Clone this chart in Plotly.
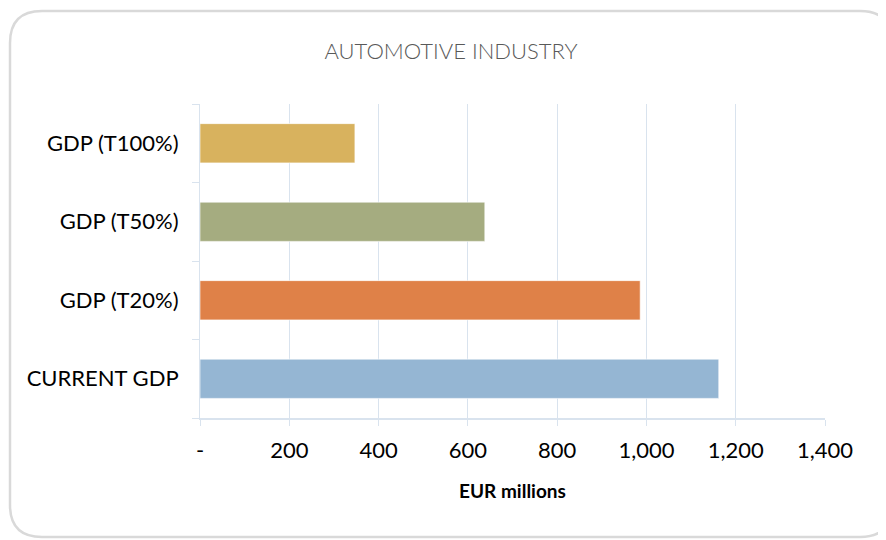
import plotly.graph_objects as go

categories = ["CURRENT GDP", "GDP (T20%)", "GDP (T50%)", "GDP (T100%)"]
values = [1162, 986, 638, 347]
colors = ["#95B6D3", "#DF8148", "#A5AC80", "#D8B25E"]
tick_vals = [0, 200, 400, 600, 800, 1000, 1200, 1400]
tick_text = ["-", "200", "400", "600", "800", "1,000", "1,200", "1,400"]

OFF = 8  # page body margin
W, H = 886 - OFF, 540 - OFF
ML, MR, MT, MB = 200 - OFF, 61, 104 - OFF, 122
PW, PH = W - ML - MR, H - MT - MB

def px(x):
    return (x - OFF - ML) / PW

def py(y):
    return (H - MB - (y - OFF)) / PH

def rounded_rect(x0, y0, x1, y1, r):
    pts = [
        ("M", [(x0 + r, y0)]),
        ("L", [(x1 - r, y0)]),
        ("Q", [(x1, y0), (x1, y0 + r)]),
        ("L", [(x1, y1 - r)]),
        ("Q", [(x1, y1), (x1 - r, y1)]),
        ("L", [(x0 + r, y1)]),
        ("Q", [(x0, y1), (x0, y1 - r)]),
        ("L", [(x0, y0 + r)]),
        ("Q", [(x0, y0), (x0 + r, y0)]),
    ]
    s = ""
    for cmd, ps in pts:
        s += cmd + " " + " ".join(f"{px(a):.5f},{py(b):.5f}" for a, b in ps) + " "
    return s + "Z"

fig = go.Figure(go.Bar(
    y=categories, x=values, orientation="h",
    marker=dict(color=colors, line=dict(color="rgba(255,255,255,0.6)", width=1)),
    width=0.5,
))

font = "Lato, 'Open Sans', sans-serif"
fig.update_layout(
    width=W, height=H,
    margin=dict(l=ML, r=MR, t=MT, b=MB),
    paper_bgcolor="white", plot_bgcolor="white",
    showlegend=False,
    title=dict(text="AUTOMOTIVE INDUSTRY", x=(451 - OFF) / W, xanchor="center",
               y=1 - (51 - OFF) / H, yanchor="middle",
               font=dict(family=font, size=22, color="#595959", weight=300)),
    xaxis=dict(range=[0, 1400], tickvals=tick_vals, ticktext=tick_text,
               showgrid=True, gridcolor="#D9E3EE", gridwidth=1,
               showline=True, linecolor="#D9E3EE", linewidth=2,
               ticks="outside", ticklen=6, tickcolor="#D9E3EE",
               ticklabelstandoff=6,
               tickfont=dict(family=font, size=22, color="#000000"),
               zeroline=False,
               title=dict(text="<b>EUR millions</b>", standoff=22,
                          font=dict(family=font, size=19, color="#000000"))),
    yaxis=dict(showgrid=False, showline=True, linecolor="#D9E3EE", linewidth=1,
               ticks="outside", ticklen=7, tickcolor="#D9E3EE",
               tickson="boundaries", ticklabelstandoff=16,
               tickfont=dict(family=font, size=22, color="#000000")),
    shapes=[dict(type="path", xref="paper", yref="paper",
                 path=rounded_rect(10, 11, 892, 537, 32),
                 line=dict(color="#D9D9D9", width=2.5), layer="below")],
)

fig.write_html("out.html")
